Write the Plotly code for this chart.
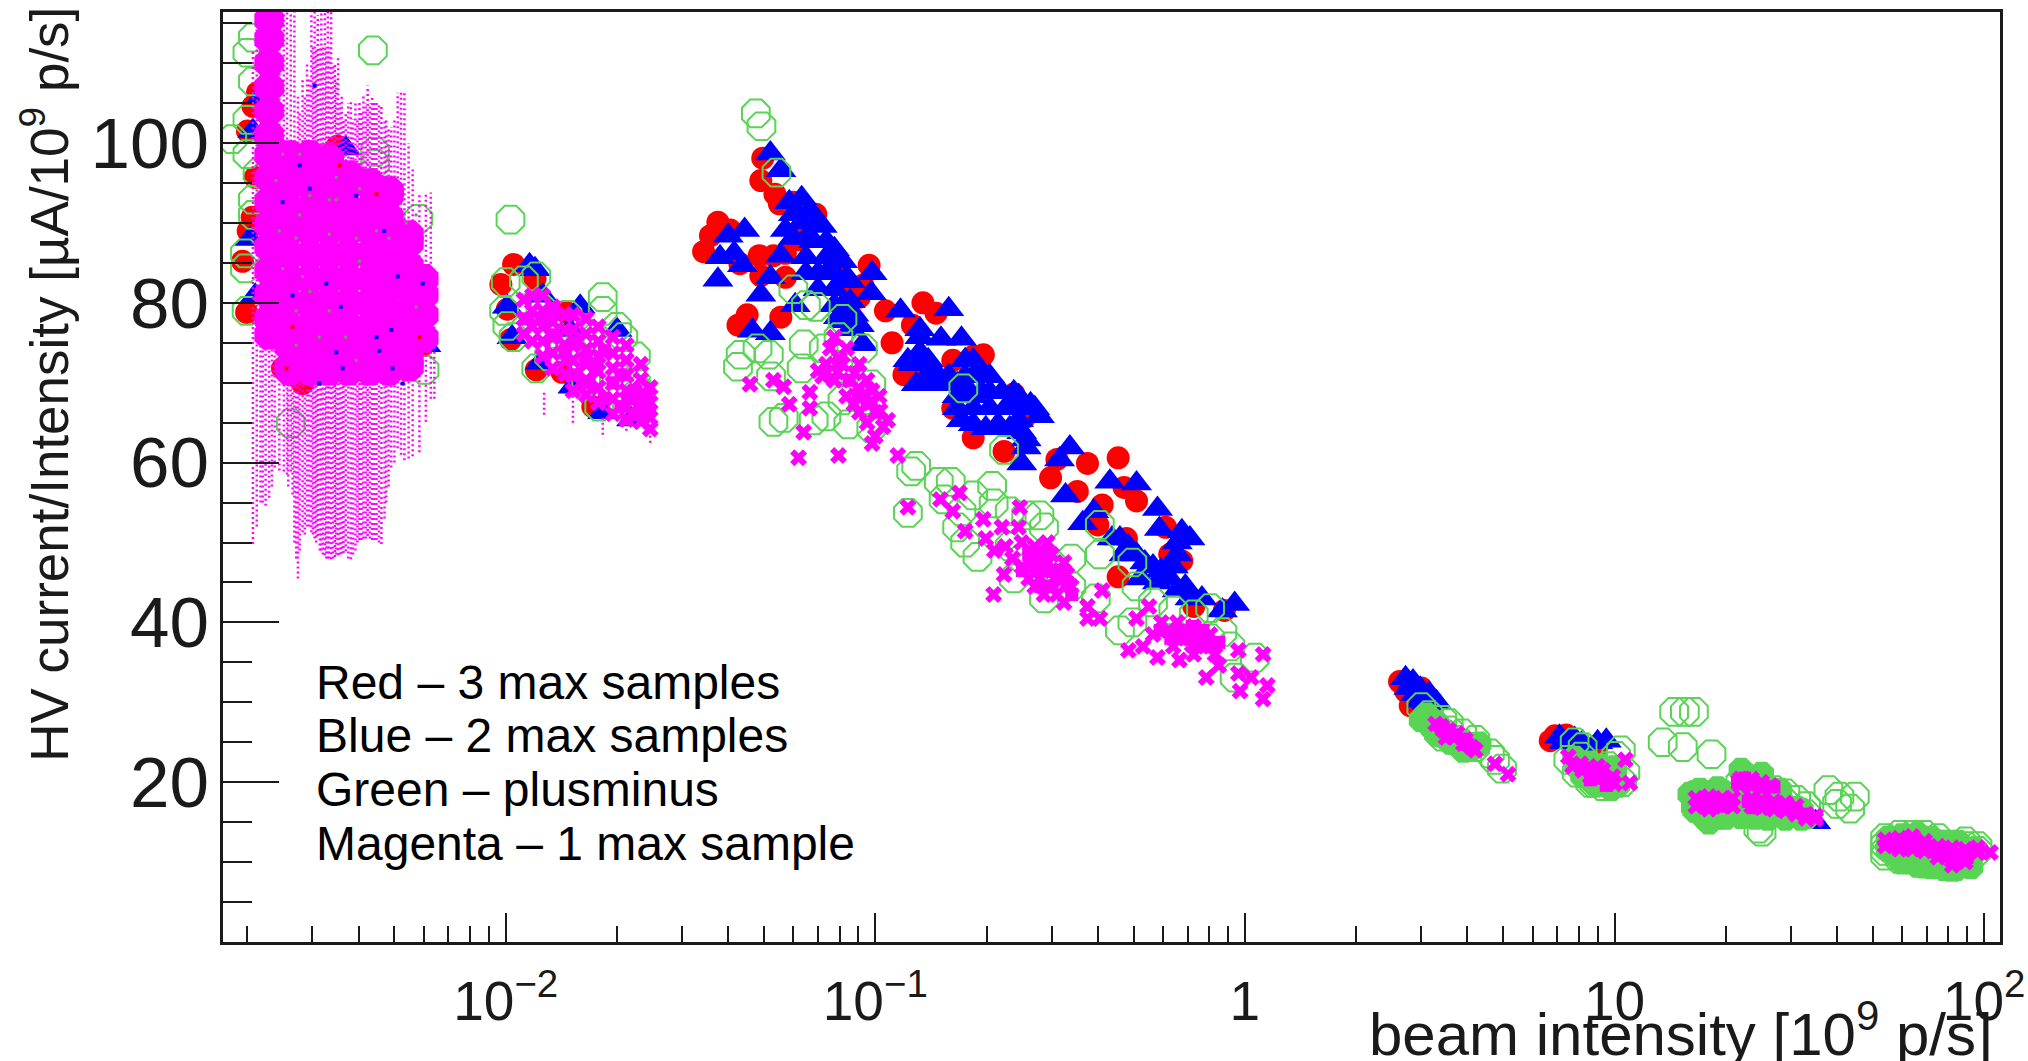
import plotly.graph_objects as go

# ---- axis ticks ----
x_major = [0.01, 0.1, 1, 10, 100]
x_labels = ["10<sup>−2</sup>", "10<sup>−1</sup>", "1", "10", "10<sup>2</sup>"]
x_minor = [0.002, 0.003, 0.004, 0.005, 0.006, 0.007, 0.008, 0.009,
           0.02, 0.03, 0.04, 0.05, 0.06, 0.07, 0.08, 0.09,
           0.2, 0.3, 0.4, 0.5, 0.6, 0.7, 0.8, 0.9,
           2, 3, 4, 5, 6, 7, 8, 9,
           20, 30, 40, 50, 60, 70, 80, 90]
y_major = [20, 40, 60, 80, 100]
y_minor = [5, 10, 15, 25, 30, 35, 45, 50, 55, 65, 70, 75, 85, 90, 95, 105, 110, 115]
notes = ["Red – 3 max samples", "Blue – 2 max samples", "Green – plusminus", "Magenta – 1 max sample"]

# ---- Red: 3 max samples ----
red_x = [.00199,.00194,.00201,.00206,.002,.00207,.00213,.0021,.0035,.00249,.00282,.00596,
         .0097,.0105,.012,.0101,.0103,.0121,.0146,.0172,.0142,
         .0496,.049,.0535,.055,.06,.069,.0375,.0358,.0343,.0405,.0485,.053,.0571,.043,.049,.0571,
         .045,.0425,.0555,.0962,.0925,.0905,.1065,.1345,.126,.146,.111,.1195,.129,.162,.196,.184,
         .162,.184,.223,.253,.237,.31,.298,.352,.375,.454,.471,.509,.411,.40,.478,.61,.626,.675,
         .454,.727,.88,.062,.079,.0855,
         2.62,2.72,3.0,3.2,2.8,
         6.7,6.9,7.4,9]
red_y = [78.8,85.2,89,90.7,101.5,104.6,106.3,95.7,99.6,71.8,69.9,74.7,
         82.3,84.8,83,79.2,75.4,71.6,78.8,67,71.3,
         98.1,95.3,93.6,92.4,92.6,91.1,90.1,88.4,86.4,89.1,85.9,85.9,86.2,84.9,83.4,83.2,
         78.5,77.2,78.2,84.7,82.2,80.7,79,80,77.2,78.7,75,71,71.5,72.8,73.5,73.3,
         66.8,63.1,61.4,65.6,68.6,60.4,58.1,56.4,59.9,60.6,56.9,55.2,54.7,52.2,50.5,51.9,48.5,47.7,
         45.7,42,41.5,87.9,85.2,82.2,
         32.6,31.4,31.8,30,29.6,
         25.2,25.8,25.9,24.6]

# ---- Blue: 2 max samples ----
blue_x = [.00218,.00207,.00203,.0021,.00369,.00608,.00596,
          .0116,.012,.0101,.0104,.0124,.0159,.0183,.0219,.0152,.0126,.0149,.02,
          .052,.0555,.0632,.0585,.069,.06,.0737,.0443,.04,.038,.0415,.0437,.0375,.0555,.052,.049,
          .0632,.0681,.0649,.0737,.07,.0775,.0775,.0836,.07,.0855,.0815,.0875,.0795,.0855,.0925,
          .098,.0975,.117,.158,.0465,.052,.0607,.132,.132,.1225,.143,.136,.1505,.171,.139,.175,.175,
          .1665,.194,.194,.22,.204,.184,.204,.184,.215,.237,.244,.263,.278,.231,.256,.249,.256,.1665,
          .336,.315,.431,.509,.327,.58,.587,.39,.364,.675,.656,.437,.484,.536,.594,.626,.69,.471,.522,
          .765,.938,.869,.64,
          .06,.0665,.0649,.0718,.0775,.0571,.0815,.0737,.0855,.0649,.0815,.0775,.0905,
          .132,.126,.139,.129,.1505,.158,.184,.184,.204,.225,.1795,.1665,.171,.199,.184,.244,.27,.237,.249,.244,
          .459,.509,.564,.626,.58,.656,.71,.656,.71,
          2.72,2.85,2.98,3.15,2.9,3.0,2.9,3.0,3.2,3.3,3.1,2.78,
          7.1,7.6,8.2,9.5,9,7.3,7.8,8,
          35,33]
blue_y = [105.8,101.5,88,80.9,99.3,74.7,82.3,
          84.7,84.2,79.5,75.7,72.5,79.5,66.3,65.4,69.5,80.9,76.6,76.6,
          98.7,96.6,93.1,92.6,90.1,88.1,87.7,89.1,88.4,85.7,86.2,84.7,82.9,85.9,83.2,81,
          90.1,87.7,85.7,85.7,83.7,83.7,81.7,83.2,81.7,80.2,79.7,78.5,78.2,76.7,74.8,
          83.7,81.2,79,79.2,76.5,76.2,79.7,75.7,73.8,72.8,71.8,70.3,75.5,75.5,70.8,72.8,70.8,
          69.8,71.3,68.8,68.8,70.8,66.8,66.8,64.8,64.8,66.8,68.3,67.3,65.8,64.3,62.9,59.9,61.9,66.8,
          61.9,60.4,57.6,57.4,55.9,54.2,51.7,53.9,52.4,51.4,50,50.5,49.5,47.5,46.5,45.5,44.5,48.5,45.5,
          43,42.3,41.5,47,
          91.1,91.6,88.1,89.6,86.7,89.1,85.2,83.7,82.7,83.7,77.7,79.7,77.2,
          76.7,72.3,72.8,69.8,69.8,70.8,72.8,70.8,68.8,66.8,68.8,68.3,65.3,64.3,68.3,65.3,66.8,68.8,63.8,67.3,
          50.5,48.5,47,47,45,44,43,48.5,50.5,
          33,32.6,31.7,31,31,30.2,32,31.2,30.7,30,29.9,31.8,
          25.7,25.3,25,25.2,25,25,25.4,24.7,
          15,15.4]

# ---- Green: plusminus ----
green_x = [.00207,.002,.00207,.002,.00182,.002,.00437,.00443,.00443,.00603,.00262,.00197,.00197,.00207,.00207,.0058,.00199,.00213,
           .0103,.01,.0099,.0112,.0121,.0101,.0105,.0121,.0124,.0147,.0183,.0183,.02,.0208,.0149,.0134,.0157,.0175,.0225,.0165,.0179,.023,.0131,.0225,
           .0475,.0492,.054,.06,.069,.0649,.0815,.048,.0432,.0425,.0515,.064,.0632,.0522,.0725,.0795,.0925,.0975,.0795,.0815,
           .053,.0565,.0681,.0737,.0845,.0975,.0925,.173,.223,
           .129,.125,.1485,.16,.207,.1225,.153,.184,.171,.209,.231,.256,.278,.286,.1665,.189,.175,.231,.237,.249,.286,.305,.339,
           .405,.405,.395,.459,.496,.496,.509,.564,.64,.727,.805,.869,.805,.938,1.064,.914,.339,
           3.15,3.42,3.28,3.56,3.7,3.42,4,3.87,4.2,3.56,3.87,4.2,4.75,4.96,4.6,3.0,
           7.8,10.1,10.5,8.8,7.5,7.9,8.6,9.3,9.6,8.6,9.6,8.1,10.7,8.2,10.4,
           14.5,15.5,16.4,13.5,15.3,18.3,
           16.6,16.6,18,18,19.6,19.6,21.9,21.9,21.9,23.5,23.5,23.5,25,25,25,27,27,27,29,29,29,31,31,33,33,
           25,24.5,
           37.9,40.6,43.4,44.7,40,
           54,54,54,54,59,59,59,59,59,64,64,64,64,64,69,69,69,69,69,69,75,75,75,75,75,82,82,82,82,82,82,89,89,89,89,89,96,96]
green_y = [113.2,111.3,107.7,102.9,100.5,98.6,111.6,98.9,97.4,71.6,64.9,86.2,84.3,92.9,91,90.5,79,96.2,
           90.4,82.6,79,82.8,83.3,77.1,75.7,71.8,79.5,78.5,80.7,79,77,75.7,74.7,76.1,73.3,75.7,73.3,70.4,67,69,73.3,70,
           103.7,102.1,96.3,81.7,79.5,79.7,78,74.3,73.5,72,73.5,74.8,71.8,70.8,74.3,75.7,74.3,69.8,71.8,67.8,
           65.1,65.6,65.3,65.8,64.8,64.3,67.8,69.3,61.6,
           59.6,58.9,57.6,57.6,57.1,53.7,55.4,55.9,53.9,54.9,53.9,53.4,53.4,51.9,51.9,48.2,50,49.5,45.5,48,43,47,44.5,
           52.2,48.5,43,39,40,47.5,44.5,42.5,41.5,41,41.8,38.8,38,33.1,35.6,37,48,
           28.4,27.8,26.8,26.5,25.3,25.7,24.4,24.8,24.4,27.4,26.1,25.3,22.8,21.7,23.6,29.4,
           25,23.3,20,19.9,22.8,21.2,19.9,19.5,21.2,22,22,23.2,21.2,24.4,24,
           28.8,28.8,28.8,25,24.4,23.5,
           18.4,17,18.4,17,18.4,17.2,20,18.6,17.4,20,18.6,17,19.5,18,16.8,19,17.6,16.8,18.6,17.4,16.6,17.8,16.4,17,16,
           13.8,14.2,
           19,18.2,16.7,18.2,17.3,
           13,12.2,11.4,10.8,13.4,12.6,11.8,11,10.4,13.4,12.6,11.8,11,10.3,13.4,12.6,11.8,11,10.2,9.8,13,12.2,11.4,10.6,9.9,12.2,11.6,11,10.4,9.8,9.4,12.6,12,11.2,10.4,9.9,12,11.4]

# where the green rings overlap so closely that they merge
green_core_x = [3.1,3.3,3.5,3.8,4.1,3.4,3.65,3.95,3.3,3.6,3.9,3.2,4.3,3.0,
                8.0,8.5,9.2,9.5,10,7.8,8.8,8.2,8.9,9.8,10.2,7.9,8.5,9.2,10,
                17,18.5,18,21,23,26,29,32,23,25.5,20.5,
                17.5,19,16.5,20,18,16,17,19,26,29,32,22,24,25,22,28,
                57,64,72,80,88,57,64,72,80,88,61,68,
                55,60,66,72,60,66,72,78,84,92,95,55,85,78]
green_core_y = [28.4,27.4,26.3,25.2,24.2,25.9,25.2,24.4,26,25,24,27,24.8,27.8,
                22.3,21,20.5,21.5,20.5,23,19.9,20.8,19.7,19.2,19.6,22,22.4,22,21.8,
                17.5,16.8,18,18,17.5,17,17,16.5,20,19.5,16.5,
                15.6,15.6,16.5,15.6,15,18.5,19,19.2,15.5,15.5,15.5,15.7,15.6,21,21.5,19,
                12.6,12.8,12.2,11.4,11,11,11,10.6,10.2,10,11.8,11.6,
                13,13.3,13.5,13,10,9.6,9.4,9.2,9.2,9.4,11.5,11.5,12.5,12.5]

# ---- Magenta: 1 max sample ----
magenta_x = [.0112,.0112,.0112,.0118,.0118,.0118,.0118,.0126,.0126,.0126,.0126,.0126,
             .0134,.0134,.0134,.0134,.0134,.0145,.0145,.0145,.0145,.0145,
             .0152,.0152,.0152,.0152,.0152,.0152,.0165,.0165,.0165,.0165,.0165,.0165,
             .0178,.0178,.0178,.0178,.0178,.0178,.0195,.0195,.0195,.0195,.0195,.0195,
             .0212,.0212,.0212,.0212,.0212,.0212,.0232,.0232,.0232,.0232,.0232,.0246,.0246,.0246,.0246,
             .0775,.0755,.0836,.0737,.0815,.0905,.0775,.0855,.095,.0836,.0925,.1025,.0905,.1,.108,.1,.098,
             .053,.0458,.0565,.0585,.0665,.0665,.064,.062,.0795,.115,.1225,.072,
             .08,.088,.079,.09,.098,.0875,.097,.103,.095,.07,.105,
             .15,.169,.162,.175,.196,.199,.22,.246,.244,.225,.249,.27,.292,.263,.292,.324,.278,.305,.339,
             .223,.209,.286,.324,.375,.405,.411,.375,.27,.285,.3,.315,.26,.33,.295,.31,.27,.25,.235,.21,
             .55,.509,.594,.656,.727,.805,.69,.765,.564,.484,.53,.58,.665,.727,.826,.96,1.12,.85,.786,.96,1.15,.97,1.12,1.04,
             .68,.71,.75,.78,.74,.66,.62,.83,.72,.64,
             3.28,3.45,3.65,3.9,4.2,3.56,3.75,3.4,3.5,3.95,4.1,4.75,5.15,
             7.5,8.1,8.6,9.3,10,11,10.7,7.7,9,9.6,8.6,9.3,9.9,8.2,8.9,
             16.6,16.6,18,18,18,19.6,19.6,20.9,20.9,21.9,21.9,23.5,23.5,25,25,26.5,
             23.5,23.5,25,25,27,27,29,29,31,31,33,33,35,35,
             54,54,59,59,59,64,64,64,69,69,69,75,75,75,82,82,82,82,89,89,89,96,96,104]
magenta_y = [80.4,78,76.1,80.9,79,77,75.2,80.9,79,77,75.2,73.3,
             79.5,77.6,75.7,73.7,71.8,78.5,76.6,74.7,72.8,71.1,
             78.5,76.6,74.7,72.8,70.9,69,78,76.1,74.2,72.3,70.4,68.5,
             77,75.2,73.3,71.4,69.4,67.5,75.7,73.7,71.8,69.9,68,66.1,
             74.7,72.8,70.9,69,67,65.4,72.3,70.4,68.5,66.6,65.1,69.4,67.5,65.6,64.2,
             75.7,74.3,74.3,72.3,72.3,72.3,70.3,70.3,70.3,68.3,68.3,68.3,66.3,66.3,65.3,63.3,62.4,
             70.3,69.8,69.5,67.3,68.8,66.8,63.8,60.6,60.9,60.9,54.4,70.8,
             73,71.2,71.3,69.3,69,67.3,67.5,66.5,65,71.5,64.5,
             55.4,56.2,53.9,51.4,52.9,50.5,51.9,54.4,51.9,49.5,50,49.5,50,47.5,47.5,47.5,45.5,45.5,44.5,
             46,43.5,43.5,42.5,40.5,40.5,44,42,48.5,46.5,48.5,46.5,45.5,46,44.5,43.5,44.5,47,48,49,
             42,40.5,40,40,39.5,38.5,38,37,38.5,36.5,37,35.6,35.3,36,37,36.5,36,34.6,33.1,33.6,32.1,31.4,30.4,33.1,
             39,38,38.5,38,37,38.5,39,36,37.2,37,
             27.3,26.5,25.7,24.8,24,26.5,26.1,27,25.6,25.3,24.4,22.3,21,
             23.2,22.3,21.5,20.7,19.8,19.9,22.8,22,22,19.9,20.7,21.5,20.7,21.5,20.9,
             18,17,18.2,17.2,16.6,18,17,18,17,20.4,19.6,20.4,19.5,20,19.2,19.6,
             18,17,17.8,16.8,17.6,16.6,17.4,16.4,17,16,16,15.5,15.4,15.8,
             12.8,12,13,12.2,11.6,13.2,12.4,11.6,12.6,12,11.4,12,11.2,10.6,11.8,11,10.2,9.6,11.6,10.8,10,11.8,11.2,11.2]

# magenta points piled on top of one another
pile_x = [56,60,64,68,60,66,72,76,80,84,86,90,78,
          17.5,19,20.5,18,19.5,23,25,27,29,31,33,24,21.5,23,25,27,22.5,
          8.3,8.8,9.2,9.7,8.6,9.5,
          3.5,3.7,3.9,3.4,4,
          .29,.3,.31,.285,.33,.7,.75,.66,.8,.085,.09,.095,.08,
          .27,.26,.28,.32,.34,.25,.3,.63,.68,.72,.77,.85,.59,
          .0135,.0145,.0155,.0165,.0175,.0185,.0195,.0205,.0215,.0225,.023,.0125,.0135,.0155,.0168,.0185,.0205,.0225,.0245,.024,.0115]
pile_y = [12.4,12.8,12.6,12.2,12,12,11.6,11.2,10.8,10.4,11,10.6,11.6,
          17.6,17.6,17.6,16.9,17,17.6,17.3,17,16.8,16.4,16,16.8,20,19.8,19.4,19.4,20.5,
          21.8,21,20.5,20,20.3,19.6,
          26.3,25.8,25.4,26.8,24.7,
          47.5,46.5,45.5,48.5,45,38.5,37.5,39,37.2,70.3,68.5,67.5,72.5,
          47,48.5,44.5,46,43.5,46.5,44.5,38,38.5,39.5,39,37.5,39,
          76,74,75,73,72,74,70,71,68,69,67,78,79,71,70,68,67,66,66.5,68.5,78]

# dense low-intensity core of the magenta series
core_x = [.00229]*15 + [.0026]*12 + [.00295]*12 + [.00333]*12 + [.00376]*11 + [.00428]*11 + [.00483]*11 + [.00547]*8 + [.006]*4
core_y = [115.4,113,110,107,104,101,98.5,95.6,92.7,89.8,87,84,81,78,76,
          98.5,96.6,94.7,91.8,89,86,83,80,77,74.5,72,71.5,
          98.5,96.6,94.7,91.8,89,86,83,80,77,74.5,72,71.5,
          98,96.6,94.7,91.8,89,86,83,80,77,74.5,72,71.5,
          96,94.7,91.8,89,86,83,80,77,74.5,72,71.5,
          95,94.7,91.8,89,86,83,80,77,74.5,72,71.5,
          94,93.5,90.7,88,85,82,79,76,73.5,72,71.5,
          88.5,87.5,84.6,81.7,78.8,76,73,72,
          83,81,78.5,75.6]

# dotted error bars of the magenta series
err_x = [.00207,.00212,.00217,.0022,.00224,.00229,.00233,.00237,.00244,.00251,.00256,.00262,.00268,.00274,.00282,.0029,.00298,.00304,.0031,.00317,.00324,
         .0033,.00337,.00345,.00352,.0036,.00369,.00375,.00381,.00392,.00402,.00412,.00423,.00435,.00447,.00454,.00461,.00475,.0049,.0051,.00521,.00532,.00546,.0056,.00584,.00608,.00627,.00641,
         .0127,.0152,.0183,.0212,.0246,
         .00258,.00265,.00271,.00277,.00286,.00294,.00301,.00307,.00314,.0032,.00327,.00333,.00341,.00348,.00356,.00364,.00386,.00397,.00407,.00418,.00429,.00441,.0047,.00482,.005]
err_low = [49.8,52,55,55,54.6,55.6,57,59.4,59,58.9,58.5,58.9,50,45.5,51.3,52,51.3,50.5,50.8,49,48.4,
           48,47.9,48.2,48.4,48.6,48.9,48,47.9,49,50.3,50.5,50.8,50.3,50.3,50,49.8,55,59.4,61.8,61,60.3,60.5,60.8,61.3,65.1,68,68,
           66,65,63.5,64,62.5,
           57,56,48,49,51,52,51,50,49,48.5,48,48,48,48.5,48.5,48.7,48.5,50,50.3,50.5,50.5,50.3,53,57,60]
err_high = [111.5,118,118,118,118,118,118,118,118,118,118,118,118,105.8,108.2,110,118,118,116,118,118,
            118,118,110,110.6,106,103.9,105,105.3,105.3,105.3,106,107.2,106,105.3,105,104.8,103,102,106.3,106.3,106.3,100,96.7,93.8,93.8,93.8,84.3,
            69,70,66,66,65,
            100,100,100,104,106,108,112,112,112,112,112,112,110,108,105,103,103,103,104,105,105,105,103,102,103]

# points of the other series that show through the magenta core
gray_x = [.00249,.00277,.00333,.00348,.00402,.00277,.00244,.00333,.00394,.00447,.00538,.00249,.00282,.00295,.00271,.00333,.00402,.00483,.00572,.00271,.00313,.00369,.00394,.00572,.00239,.00271,.00348,.00295]
gray_y = [98.6,98.6,92.9,92.9,94.3,91,89,88.6,88.1,89,90,84.3,83.3,81.4,79,79,85.2,88.1,79.5,74.7,75.7,75.7,72.8,91,95.3,88.1,95.7,93.4]
speck_blue_x = [.00277,.00249,.00295,.00394,.00469,.0051,.00596,.00358,.0049,.00348,.00455,.00494,.00362,.00526,.00313,.00265,.00327,.00447,.00304]
speck_blue_y = [97.2,92.6,94.3,93.4,89,83.3,82.4,79.5,76.6,73.8,74,71.8,71.8,69.9,69.9,80.9,82.4,75.7,107.2]
speck_red_x = [.00447,.00355,.00265,.00255,.00288,.00584]
speck_red_y = [93.6,97.2,77,71.8,69.4,75.7]

# ---- styling constants ----
W, H = 2028, 1061
L, R, T, B = 222.5, 2000, 11.5, 942
FONT = "Liberation Sans"
INK = "#1a1a1a"


def px(a):
    return (a - L) / (R - L)


def py(a):
    return (B - a) / (B - T)


bar_x, bar_y = [], []
for x, lo, hi in zip(err_x, err_low, err_high):
    bar_x += [x, x, None]
    bar_y += [lo, hi, None]

fig = go.Figure()
fig.add_trace(go.Scatter(x=red_x, y=red_y, mode="markers", name="3 max samples",
                         marker=dict(symbol="circle", size=23, color="#ff0000", line_width=0)))
fig.add_trace(go.Scatter(x=blue_x, y=blue_y, mode="markers", name="2 max samples",
                         marker=dict(symbol="triangle-up", size=27, color="#0000ff", line_width=0)))
fig.add_trace(go.Scatter(x=green_core_x, y=green_core_y, mode="markers", name="plusminus dense",
                         marker=dict(symbol="octagon", size=27, color="#59d454", line_width=0)))
fig.add_trace(go.Scatter(x=green_x, y=green_y, mode="markers", name="plusminus",
                         marker=dict(symbol="octagon-open", size=30, color="#59d454",
                                     line=dict(width=2, color="#59d454"))))
fig.add_trace(go.Scatter(x=bar_x, y=bar_y, mode="lines", name="1 max sample errors", connectgaps=False,
                         line=dict(color="#ff00ff", width=2.5, dash="2px,3px")))
fig.add_trace(go.Scatter(x=core_x, y=core_y, mode="markers", name="1 max sample core",
                         marker=dict(symbol="octagon", size=32, color="#ff00ff", line_width=0)))
fig.add_trace(go.Scatter(x=gray_x, y=gray_y, mode="markers", name="plusminus through core",
                         marker=dict(symbol="square", size=3, color="#808a70", line_width=0)))
fig.add_trace(go.Scatter(x=speck_blue_x, y=speck_blue_y, mode="markers", name="2 max through core",
                         marker=dict(symbol="square", size=4, color="#0000ff", line_width=0)))
fig.add_trace(go.Scatter(x=speck_red_x, y=speck_red_y, mode="markers", name="3 max through core",
                         marker=dict(symbol="square", size=4, color="#ff0000", line_width=0)))
fig.add_trace(go.Scatter(x=pile_x, y=pile_y, mode="markers", name="1 max sample piled",
                         marker=dict(symbol="square", size=13, color="#ff00ff", line_width=0)))
fig.add_trace(go.Scatter(x=magenta_x, y=magenta_y, mode="markers", name="1 max sample",
                         marker=dict(symbol="x", size=15, color="#ff00ff", line_width=0)))

annotations = [
    dict(text="beam intensity [10<sup>9</sup> p/s]", xref="paper", yref="paper", x=px(1995), y=py(1070),
         xanchor="right", yanchor="bottom", showarrow=False, font=dict(family=FONT, size=60, color=INK)),
    dict(text="HV current/Intensity [µA/10<sup>9</sup> p/s]", xref="paper", yref="paper", x=px(44), y=py(384),
         xanchor="center", yanchor="middle", textangle=-90, showarrow=False, font=dict(family=FONT, size=53, color=INK)),
]
for i, t in enumerate(notes):
    annotations.append(dict(text=t, xref="paper", yref="paper", x=px(314), y=py(682 + i * 53.7),
                            xanchor="left", yanchor="middle", showarrow=False,
                            font=dict(family=FONT, size=48, color="#000000")))

axis = dict(showgrid=False, zeroline=False, showline=True, mirror=True, linecolor=INK, linewidth=2.5,
            ticks="inside", tickcolor=INK, tickwidth=2)
fig.update_layout(
    width=W, height=H, autosize=False, showlegend=False,
    paper_bgcolor="white", plot_bgcolor="white",
    margin=dict(l=L, r=W - R, t=T, b=H - B, autoexpand=False),
    xaxis=dict(type="log", range=[-2.765, 2.043], tickmode="array", tickvals=x_major, ticktext=x_labels,
               ticklen=29, tickfont=dict(family=FONT, size=55, color=INK), ticklabelstandoff=9,
               minor=dict(tickmode="array", tickvals=x_minor, ticks="inside", ticklen=16, tickcolor=INK, tickwidth=2),
               **axis),
    yaxis=dict(range=[0, 116.4], tickmode="array", tickvals=y_major,
               ticklen=56, tickfont=dict(family=FONT, size=71, color=INK), ticklabelstandoff=-3,
               minor=dict(tickmode="array", tickvals=y_minor, ticks="inside", ticklen=29, tickcolor=INK, tickwidth=2),
               **axis),
    annotations=annotations,
)
fig.write_html("out.html", config=dict(displayModeBar=False), post_script="document.body.style.margin='0';")
